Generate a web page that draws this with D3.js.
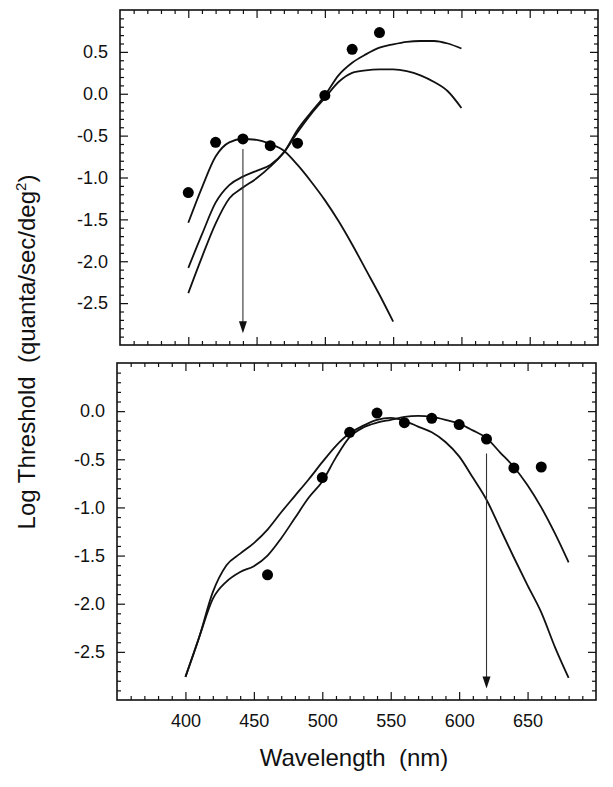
<!DOCTYPE html>
<html><head><meta charset="utf-8">
<script src="https://cdn.jsdelivr.net/npm/d3@7"></script>
<style>body{margin:0;background:#fff} svg{display:block}</style>
</head><body>
<svg id="c" width="613" height="787"></svg>
<script>
// ---------- data ----------
const xMajorTicks = [400, 450, 500, 550, 600, 650];
const topYTicks = [0.5, 0.0, -0.5, -1.0, -1.5, -2.0, -2.5];
const botYTicks = [0.0, -0.5, -1.0, -1.5, -2.0, -2.5];

// top panel
const topDotsX = [400, 420, 440, 460, 480, 500, 520, 540];
const topDotsY = [-1.18, -0.58, -0.54, -0.62, -0.59, -0.02, 0.53, 0.73];

const topCurveAX = [400, 410, 420, 430, 440, 450, 460, 470, 480, 490, 500, 510, 520, 530, 540, 550];
const topCurveAY = [-1.54, -1.12, -0.75, -0.58, -0.54, -0.55, -0.60, -0.68, -0.85, -1.05, -1.27, -1.52, -1.80, -2.10, -2.40, -2.72];

const topCurveBX = [400, 410, 420, 430, 440, 450, 460, 470, 480, 490, 500, 510, 520, 530, 540, 550, 560, 570, 580, 590, 600];
const topCurveBY = [-2.08, -1.68, -1.30, -1.09, -0.99, -0.92, -0.85, -0.70, -0.43, -0.22, -0.02, 0.22, 0.37, 0.47, 0.55, 0.59, 0.62, 0.63, 0.63, 0.60, 0.54];

const topCurveCX = [400, 410, 420, 430, 440, 450, 460, 470, 480, 490, 500, 510, 520, 530, 540, 550, 560, 570, 580, 590, 600];
const topCurveCY = [-2.38, -1.95, -1.55, -1.25, -1.12, -1.01, -0.87, -0.70, -0.46, -0.24, -0.05, 0.14, 0.25, 0.28, 0.29, 0.29, 0.27, 0.22, 0.14, 0.03, -0.17];

// bottom panel
const botDotsX = [460, 500, 520, 540, 560, 580, 600, 620, 640, 660];
const botDotsY = [-1.70, -0.69, -0.22, -0.02, -0.12, -0.075, -0.14, -0.29, -0.59, -0.58];

const botCurveDX = [400, 410, 420, 430, 440, 450, 460, 470, 480, 490, 500, 510, 520, 530, 540, 550, 560, 570, 580, 590, 600, 610, 620, 630, 640, 650, 660, 670, 680];
const botCurveDY = [-2.76, -2.35, -1.95, -1.77, -1.67, -1.61, -1.50, -1.32, -1.11, -0.90, -0.73, -0.48, -0.27, -0.17, -0.12, -0.09, -0.06, -0.05, -0.06, -0.09, -0.13, -0.20, -0.28, -0.43, -0.58, -0.77, -1.00, -1.27, -1.57];

const botCurveEX = [400, 410, 420, 430, 440, 450, 460, 470, 480, 490, 500, 510, 520, 530, 540, 550, 560, 570, 580, 590, 600, 610, 620, 630, 640, 650, 660, 670, 680];
const botCurveEY = [-2.76, -2.35, -1.88, -1.60, -1.48, -1.37, -1.23, -1.05, -0.88, -0.71, -0.53, -0.36, -0.23, -0.15, -0.09, -0.07, -0.10, -0.16, -0.22, -0.32, -0.47, -0.69, -0.92, -1.22, -1.52, -1.81, -2.09, -2.45, -2.77];

// arrows: wavelength, start value, tip value
const topArrow = [440, -0.66, -2.86];
const botArrow = [620, -0.44, -2.88];

// ---------- drawing ----------
const svg = d3.select("#c");
const FONT = "'Liberation Sans', Arial, Helvetica, sans-serif";
const fmt = v => v.toFixed(1);
const zip = (xs, ys) => xs.map((d, i) => [d, ys[i]]);

function panel(cfg) {
  const x = d3.scaleLinear().domain([350, 700]).range([cfg.left, cfg.right]);
  const y = d3.scaleLinear().domain(cfg.yDomain).range([cfg.bottom, cfg.top]);
  const g = svg.append("g");

  const xMinor = d3.range(360, 700, 10).filter(v => v % 50 !== 0);
  const xMajorAll = d3.range(350, 701, 50).filter(v => v > 350 && v < 700);
  const yMinor = d3.range(Math.round(cfg.yDomain[0] * 10) + 1, Math.round(cfg.yDomain[1] * 10))
      .map(v => v / 10).filter(v => Math.abs(v * 2 - Math.round(v * 2)) > 1e-6);
  const yMajorAll = d3.range(Math.round(cfg.yDomain[0] * 2) + 1, Math.round(cfg.yDomain[1] * 2)).map(v => v / 2);

  function styleAxis(sel) {
    sel.select(".domain").remove();
    sel.selectAll("line").attr("stroke", "#111").attr("stroke-width", 1.2);
    sel.selectAll("text").attr("font-family", FONT).attr("font-size", 18).attr("fill", "#111");
  }
  // bottom
  g.append("g").attr("transform", `translate(0,${cfg.bottom})`)
    .call(d3.axisBottom(x).tickValues(xMinor).tickSize(-4).tickFormat("")).call(styleAxis);
  g.append("g").attr("transform", `translate(0,${cfg.bottom})`)
    .call(d3.axisBottom(x).tickValues(cfg.xLabels ? xMajorTicks : xMajorAll).tickSize(-8).tickPadding(14)
      .tickFormat(cfg.xLabels ? d3.format("d") : "")).call(styleAxis);
  // top
  g.append("g").attr("transform", `translate(0,${cfg.top})`)
    .call(d3.axisTop(x).tickValues(xMinor).tickSize(-4).tickFormat("")).call(styleAxis);
  g.append("g").attr("transform", `translate(0,${cfg.top})`)
    .call(d3.axisTop(x).tickValues(xMajorAll).tickSize(-8).tickFormat("")).call(styleAxis);
  // left
  g.append("g").attr("transform", `translate(${cfg.left},0)`)
    .call(d3.axisLeft(y).tickValues(yMinor).tickSize(-4).tickFormat("")).call(styleAxis);
  g.append("g").attr("transform", `translate(${cfg.left},0)`)
    .call(d3.axisLeft(y).tickValues(cfg.yTicks).tickSize(-8).tickPadding(12).tickFormat(fmt)).call(styleAxis);
  // right
  g.append("g").attr("transform", `translate(${cfg.right},0)`)
    .call(d3.axisRight(y).tickValues(yMinor).tickSize(-4).tickFormat("")).call(styleAxis);
  g.append("g").attr("transform", `translate(${cfg.right},0)`)
    .call(d3.axisRight(y).tickValues(yMajorAll).tickSize(-8).tickFormat("")).call(styleAxis);

  // frame
  g.append("rect").attr("x", cfg.left).attr("y", cfg.top)
    .attr("width", cfg.right - cfg.left).attr("height", cfg.bottom - cfg.top)
    .attr("fill", "none").attr("stroke", "#111").attr("stroke-width", 1.6);

  const line = d3.line().x(d => x(d[0])).y(d => y(d[1])).curve(d3.curveMonotoneX);
  cfg.curves.forEach(c => {
    g.append("path").attr("d", line(c)).attr("fill", "none")
      .attr("stroke", "#111").attr("stroke-width", 1.8).attr("stroke-linejoin", "round");
  });

  g.selectAll("circle.dot").data(cfg.dots).join("circle").attr("class", "dot")
    .attr("cx", d => x(d[0])).attr("cy", d => y(d[1])).attr("r", 5.5).attr("fill", "#000");

  // arrow
  const [aw, a0, a1] = cfg.arrow;
  const ax = x(aw), ay0 = y(a0), ay1 = y(a1);
  g.append("line").attr("x1", ax).attr("x2", ax).attr("y1", ay0).attr("y2", ay1 - 10)
    .attr("stroke", "#333").attr("stroke-width", 1.1);
  const p = d3.path();
  p.moveTo(ax - 4, ay1 - 12); p.lineTo(ax + 4, ay1 - 12); p.lineTo(ax, ay1); p.closePath();
  g.append("path").attr("d", p.toString()).attr("fill", "#111");
}

panel({
  left: 120, right: 598, top: 10, bottom: 345, yDomain: [-3, 1], yTicks: topYTicks, xLabels: false,
  curves: [zip(topCurveAX, topCurveAY), zip(topCurveBX, topCurveBY), zip(topCurveCX, topCurveCY)],
  dots: zip(topDotsX, topDotsY), arrow: topArrow
});
panel({
  left: 117, right: 596, top: 363, bottom: 700, yDomain: [-3, 0.5], yTicks: botYTicks, xLabels: true,
  curves: [zip(botCurveDX, botCurveDY), zip(botCurveEX, botCurveEY)],
  dots: zip(botDotsX, botDotsY), arrow: botArrow
});

// axis titles
svg.append("text").attr("x", 354).attr("y", 766).attr("text-anchor", "middle")
  .attr("font-family", FONT).attr("font-size", 24).attr("fill", "#111")
  .style("white-space", "pre").text("Wavelength  (nm)");

const yt = svg.append("text").attr("transform", "translate(35,352) rotate(-90)")
  .attr("text-anchor", "middle").attr("font-family", FONT).attr("font-size", 24).attr("fill", "#111")
  .style("white-space", "pre");
yt.append("tspan").text("Log Threshold  (quanta/sec/deg");
yt.append("tspan").attr("font-size", 15).attr("dy", -9).text("2");
yt.append("tspan").attr("dy", 9).text(")");
</script>
</body></html>
